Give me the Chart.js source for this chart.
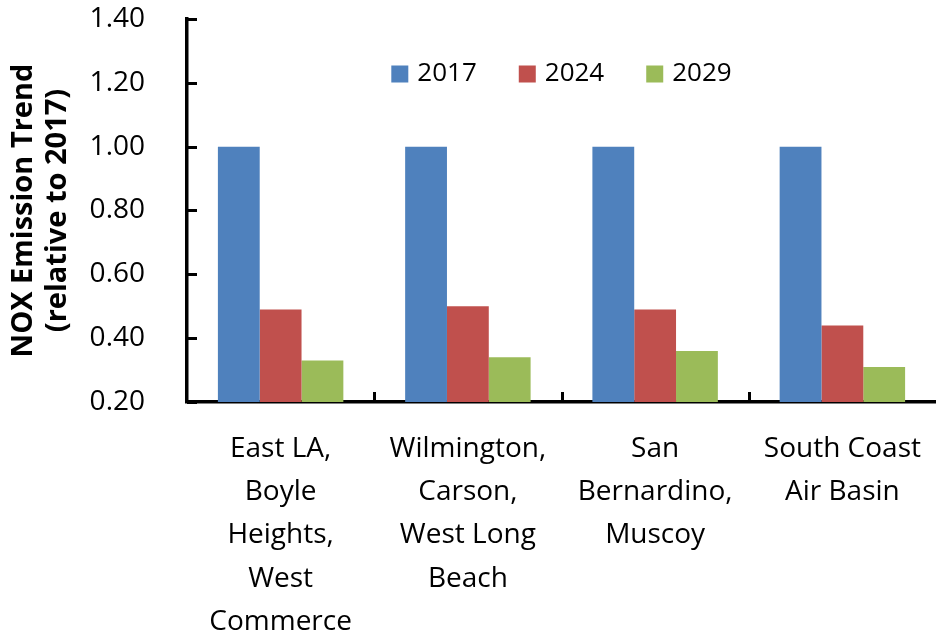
<!DOCTYPE html>
<html>
<head>
<meta charset="utf-8">
<script src="https://cdn.jsdelivr.net/npm/chart.js@4.4.1/dist/chart.umd.min.js"></script>
<style>
  html, body { margin: 0; padding: 0; background: #fff; }
  #wrap { width: 936px; height: 635px; }
</style>
</head>
<body>
<div id="wrap"><canvas id="grafico"></canvas></div>
<script>
const regioes = [
    ['East LA,', 'Boyle', 'Heights,', 'West', 'Commerce'],
    ['Wilmington,', 'Carson,', 'West Long', 'Beach'],
    ['San', 'Bernardino,', 'Muscoy'],
    ['South Coast', 'Air Basin']
]
const anos = ['2017', '2024', '2029']
const valores2017 = [1.00, 1.00, 1.00, 1.00]
const valores2024 = [0.49, 0.50, 0.49, 0.44]
const valores2029 = [0.33, 0.34, 0.36, 0.31]
const cores = ['#4F81BD', '#C0504D', '#9BBB59']

const fonte = "'Open Sans', sans-serif"

// legenda desenhada dentro da area do grafico, centrada
const legendaInterna = {
    id: 'legendaInterna',
    afterDraw(chart) {
        const ctx = chart.ctx
        const area = chart.chartArea
        const caixa = 17, espaco = 9, entre = 42
        ctx.save()
        ctx.font = '26px ' + fonte
        ctx.textBaseline = 'middle'
        const itens = chart.data.datasets.map(ds => ({
            texto: ds.label, cor: ds.backgroundColor,
            largura: caixa + espaco + ctx.measureText(ds.label).width
        }))
        let total = itens.reduce((s, it) => s + it.largura, 0) + entre * (itens.length - 1)
        let x = (area.left + area.right) / 2 - total / 2
        const y = 74
        for (const it of itens) {
            ctx.fillStyle = it.cor
            ctx.fillRect(x, y - caixa / 2, caixa, caixa)
            ctx.fillStyle = '#000'
            ctx.fillText(it.texto, x + caixa + espaco, y)
            x += it.largura + entre
        }
        ctx.restore()
    }
}

// marcas de escala voltadas para dentro do grafico
const marcasInternas = {
    id: 'marcasInternas',
    afterDatasetsDraw(chart) {
        const ctx = chart.ctx
        const { x, y } = chart.scales
        const area = chart.chartArea
        const tam = 10
        ctx.save()
        ctx.strokeStyle = '#000'
        ctx.lineWidth = 3
        ctx.beginPath()
        for (const t of y.ticks) {
            const py = Math.round(y.getPixelForValue(t.value)) + 0.5
            ctx.moveTo(area.left, py)
            ctx.lineTo(area.left + tam, py)
        }
        for (let i = 1; i < chart.data.labels.length; i++) {
            const px = Math.round((x.getPixelForValue(i - 1) + x.getPixelForValue(i)) / 2) + 0.5
            ctx.moveTo(px, area.bottom)
            ctx.lineTo(px, area.bottom - tam)
        }
        ctx.stroke()
        ctx.restore()
    }
}

var grf = document.getElementById('grafico').getContext('2d')

var data = {
    labels: regioes,
    datasets: [valores2017, valores2024, valores2029].map((v, i) => ({
        label: anos[i],
        data: v,
        backgroundColor: cores[i],
        borderWidth: 0,
        categoryPercentage: 0.67,
        barPercentage: 1.0
    }))
}

var options = {
    responsive: true,
    maintainAspectRatio: false,
    animation: false,
    layout: { padding: { top: 19, right: 0, left: 0, bottom: 0 } },
    plugins: {
        legend: { display: false },
        tooltip: { enabled: false }
    },
    scales: {
        x: {
            afterFit: s => {
                s.height = 233
                s.paddingLeft = 0
                s.paddingRight = 0
            },
            border: { color: '#000', width: 3.5 },
            grid: { display: false },
            ticks: {
                color: '#000',
                padding: 17,
                maxRotation: 0,
                autoSkip: false,
                font: { family: fonte, size: 28, lineHeight: 1.55 }
            }
        },
        y: {
            min: 0.2,
            max: 1.4,
            afterFit: s => {
                s.width = 187
                s.paddingTop = 0
                s.paddingBottom = 0
            },
            border: { color: '#000', width: 3.5 },
            grid: { display: false },
            ticks: {
                stepSize: 0.2,
                color: '#000',
                padding: 34,
                font: { family: fonte, size: 28 },
                callback: v => Number(v).toFixed(2)
            },
            title: {
                display: true,
                text: ['NOX Emission Trend', '(relative to 2017)'],
                color: '#000',
                padding: { top: 6, bottom: 0 },
                font: { family: fonte, size: 29, weight: 'bold', lineHeight: 1.2 }
            }
        }
    }
}

var meuGrafico = new Chart(grf, {
    type: 'bar',
    data: data,
    options: options,
    plugins: [legendaInterna, marcasInternas]
})
</script>
</body>
</html>
